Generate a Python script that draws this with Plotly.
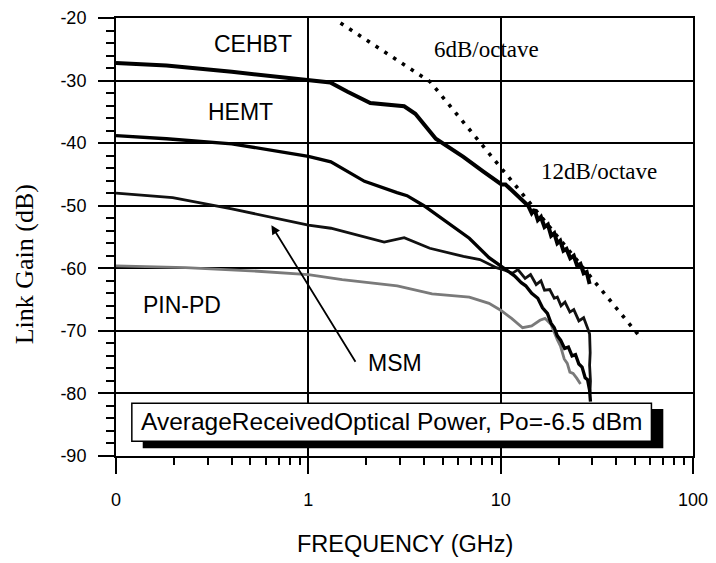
import plotly.graph_objects as go

# ---------------- data ----------------
cehbt_f = [0.1, 0.183, 0.4, 1.0, 1.3, 1.6, 2.1, 3.15, 3.6, 4.6, 6.4, 8.1, 9.5, 10.1, 10.6, 12.0,
           13.9, 14.5, 15.0, 15.6, 16.2, 16.9, 17.6, 18.3, 19.0, 19.7, 20.4, 21.2, 22.0, 23.0,
           24.0, 25.0, 26.0, 27.0, 28.0, 29.0]
cehbt_db = [-27.2, -27.6, -28.6, -29.8, -30.3, -31.8, -33.6, -34.1, -35.3, -39.3, -42.2, -44.5, -46.1, -46.6, -46.6, -48.2,
            -50.0, -51.2, -50.6, -52.3, -51.8, -53.4, -53.0, -54.8, -54.4, -56.0, -55.6, -57.2, -56.9, -58.4,
            -58.0, -59.6, -59.3, -60.8, -60.6, -62.5]

hemt_f = [0.1, 0.183, 0.4, 1.0, 1.31, 1.96, 2.89, 3.26, 3.99, 5.24, 6.87, 8.7, 10.0, 11.0, 11.8, 12.8,
          13.5, 14.5, 15.6, 16.5, 17.5, 18.3, 19.0, 19.7, 20.5, 21.5, 22.5, 23.5, 24.5, 25.5, 26.5,
          27.5, 28.3, 29.0, 29.3]
hemt_db = [-38.8, -39.3, -40.1, -42.1, -43.0, -46.1, -47.9, -48.4, -50.0, -52.6, -55.2, -58.3, -59.6, -60.5, -61.2, -62.3,
           -62.8, -64.0, -64.8, -66.3, -67.2, -68.8, -69.5, -70.8, -71.5, -72.8, -72.6, -74.0, -73.8, -75.3, -75.8,
           -77.5, -77.8, -79.5, -81.3]

msm_f = [0.1, 0.197, 0.4, 1.0, 1.31, 1.96, 2.48, 3.15, 4.28, 6.4, 7.8, 9.5, 10.5, 11.5, 12.3, 13.4,
         14.3, 15.3, 16.2, 16.9, 18.0, 19.0, 19.7, 20.6, 21.6, 22.9, 24.0, 25.5, 27.0, 28.5, 29.0,
         29.2, 29.0, 29.3, 29.1]
msm_db = [-48.0, -48.7, -50.5, -53.1, -53.6, -55.0, -55.8, -55.1, -56.8, -58.1, -58.6, -59.9, -60.3, -60.8, -60.2, -61.6,
          -61.0, -62.6, -62.0, -63.5, -63.4, -64.8, -64.6, -66.0, -65.4, -67.0, -66.6, -68.4, -67.9, -69.8, -70.5,
          -73.5, -75.5, -78.0, -80.0]

pin_f = [0.1, 0.23, 0.5, 1.0, 1.5, 2.2, 2.9, 4.4, 6.87, 8.7, 10.0, 11.4, 13.0, 14.5, 16.0, 17.0,
         18.3, 19.7, 20.5, 21.4, 22.2, 22.9, 23.8, 24.9, 26.0]
pin_db = [-59.6, -59.9, -60.4, -61.0, -61.8, -62.4, -62.8, -64.1, -64.6, -65.6, -66.7, -68.0, -69.5, -69.2, -68.3, -68.0,
          -69.0, -71.4, -72.5, -74.5, -75.2, -76.6, -76.8, -77.6, -78.5]

asym_f = [1.47, 4.3, 54.5]
asym_db = [-20.8, -30.2, -71.4]

x_tickvals = [0.1, 1, 10, 100]
x_ticktext = ["0", "1", "10", "100"]
x_minor = [0.2, 0.3, 0.4, 0.5, 0.6, 0.7, 0.8, 0.9, 2, 3, 4, 5, 6, 7, 8, 9,
           20, 30, 40, 50, 60, 70, 80, 90]
y_tickvals = [-90, -80, -70, -60, -50, -40, -30, -20]
y_ticktext = ["-90", "-80", "-70", "-60", "-50", "-40", "-30", "-20"]

# ---------------- layout geometry helpers (pixel -> paper) ----------------
W, H = 716, 563
L, R, T, B = 116, 17, 8, 107
PW, PH = W - L - R, H - T - B


def px(x):
    return (x - L) / PW


def py(y):
    return (H - B - y) / PH


SANS = "Liberation Sans, Arial, sans-serif"
SERIF = "Liberation Serif, Times New Roman, serif"

fig = go.Figure()
fig.add_trace(go.Scatter(x=pin_f, y=pin_db, mode="lines",
                         line=dict(color="#7a7a7a", width=2.8), name="PIN-PD"))
fig.add_trace(go.Scatter(x=msm_f, y=msm_db, mode="lines",
                         line=dict(color="#111111", width=2.8), name="MSM"))
fig.add_trace(go.Scatter(x=hemt_f, y=hemt_db, mode="lines",
                         line=dict(color="black", width=3.3), name="HEMT"))
fig.add_trace(go.Scatter(x=cehbt_f, y=cehbt_db, mode="lines",
                         line=dict(color="black", width=4), name="CEHBT"))
fig.add_trace(go.Scatter(x=asym_f, y=asym_db, mode="lines",
                         line=dict(color="black", width=3.6, dash="3.5px,7px"), name="slope"))

fig.update_layout(
    width=W, height=H,
    margin=dict(l=L, r=R, t=T, b=B),
    paper_bgcolor="white", plot_bgcolor="white",
    showlegend=False,
    font=dict(family=SANS, color="black", size=18),
)

fig.update_xaxes(
    type="log", range=[-1, 2],
    tickmode="array", tickvals=x_tickvals, ticktext=x_ticktext,
    ticks="outside", ticklen=16, tickwidth=2, tickcolor="black",
    ticklabelstandoff=10,
    tickfont=dict(family=SANS, size=18, color="black"),
    showgrid=True, gridcolor="black", gridwidth=1.6,
    showline=True, linecolor="black", linewidth=2, mirror=True,
    zeroline=False,
    minor=dict(tickmode="array", tickvals=x_minor, ticks="outside", ticklen=7,
               tickwidth=1.5, tickcolor="black", showgrid=False),
)
fig.update_yaxes(
    range=[-90, -20],
    tickmode="array", tickvals=y_tickvals, ticktext=y_ticktext,
    ticks="outside", ticklen=16, tickwidth=2, tickcolor="black",
    ticklabelstandoff=8,
    tickfont=dict(family=SANS, size=18, color="black"),
    showgrid=True, gridcolor="black", gridwidth=1.6,
    showline=True, linecolor="black", linewidth=2, mirror=True,
    zeroline=False,
    minor=dict(dtick=2, ticks="outside", ticklen=8, tickwidth=1.5,
               tickcolor="black", showgrid=False),
)

shapes = [
    # white patch behind "6dB/octave" (grid is interrupted there)
    dict(type="rect", xref="paper", yref="paper", x0=px(432), x1=px(560), y0=py(69), y1=py(21),
         fillcolor="white", line=dict(width=0), layer="between"),
    # shadow of the info box
    dict(type="rect", xref="paper", yref="paper", x0=px(143), x1=px(669), y0=py(448), y1=py(408),
         fillcolor="black", line=dict(width=0), layer="above"),
    # info box
    dict(type="rect", xref="paper", yref="paper", x0=px(132), x1=px(657), y0=py(441), y1=py(402),
         fillcolor="white", line=dict(color="black", width=1.5), layer="above"),
]
fig.update_layout(shapes=shapes)


def label(text, x, y, size=23, family=SANS, **kw):
    fig.add_annotation(text=text, xref="paper", yref="paper", x=px(x), y=py(y),
                       showarrow=False, xanchor="center", yanchor="middle",
                       font=dict(family=family, size=size, color="black"), **kw)


label("CEHBT", 254, 35)
label("HEMT", 242, 104)
label("PIN-PD", 183, 302)
label("MSM", 398, 361)
label("6dB/octave", 490, 40, family=SERIF)
label("12dB/octave", 604, 165, family=SERIF)
label("AverageReceivedOptical Power, Po=-6.5 dBm", 394, 421, size=24.5)
label("FREQUENCY (GHz)", 408, 546, size=23.5)
label("Link Gain (dB)", 23, 260, size=26, family=SERIF, textangle=-90)

# arrow from MSM label to its curve
fig.add_annotation(text="", xref="paper", yref="paper", x=px(273), y=py(220),
                   ax=85, ay=138, showarrow=True, arrowhead=2, arrowsize=1,
                   arrowwidth=1.8, arrowcolor="black")

fig.write_html("out.html")
